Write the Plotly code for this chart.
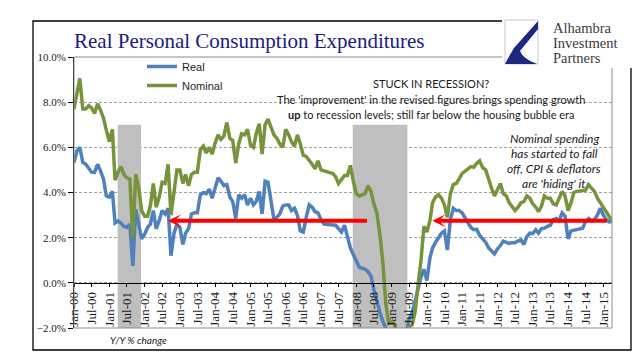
import plotly.graph_objects as go
import pandas as pd

# ---------------- data (Y/Y % change, monthly from Jan-2000) ----------------
start_month = "2000-01-01"

real = [
    5.33, 5.85, 6.00, 5.33, 5.26, 5.05, 4.90, 4.89, 5.25, 4.96, 4.60, 3.85,   # 2000
    3.80, 4.05, 2.65, 2.74, 2.65, 2.50, 2.45, 2.60, 0.75, 3.25, 2.60, 1.95,   # 2001
    2.15, 2.45, 2.60, 3.20, 2.40, 2.75, 3.20, 3.05, 3.30, 1.20, 2.20, 2.60,   # 2002
    2.45, 1.70, 2.20, 2.40, 3.05, 3.10, 3.10, 3.90, 4.00, 3.95, 4.15, 3.75,   # 2003
    4.20, 4.65, 4.50, 4.30, 4.35, 3.80, 3.60, 2.85, 3.90, 3.75, 3.90, 3.45,   # 2004
    3.75, 3.45, 3.60, 4.05, 3.05, 4.50, 4.45, 3.60, 2.80, 2.90, 3.05, 3.40,   # 2005
    3.45, 3.45, 3.20, 3.30, 3.00, 2.30, 2.25, 2.90, 3.45, 3.35, 3.15, 3.10,   # 2006
    2.80, 2.60, 2.58, 2.58, 2.55, 2.55, 2.40, 2.25, 2.55, 2.00, 1.55, 1.25,   # 2007
    0.95, 0.70, 0.65, 0.60, 0.50, 0.30, -0.30, -0.85, -1.30, -1.70, -2.05, -2.40,  # 2008
    -2.60, -2.70, -2.70, -2.60, -2.40, -2.20, -1.60, -1.30, -0.80, -0.20, 0.25, 0.60,  # 2009
    0.10, 1.10, 1.55, 1.80, 2.00, 2.20, 2.30, 1.45, 2.80, 3.30, 3.20, 3.20,   # 2010
    3.10, 2.90, 2.70, 2.45, 2.35, 2.37, 2.10, 1.95, 1.80, 1.55, 1.42, 1.28,   # 2011
    1.50, 1.65, 1.85, 1.80, 1.75, 1.78, 1.78, 1.85, 1.90, 1.70, 2.05, 2.20,   # 2012
    2.18, 2.35, 2.20, 2.40, 2.42, 2.50, 2.55, 2.80, 2.85, 2.75, 3.10, 2.95,   # 2013
    1.95, 2.30, 2.32, 2.37, 2.37, 2.42, 2.72, 2.85, 2.75, 2.80, 3.00, 3.30,   # 2014
    3.00, 2.80, 2.70, 2.72,                                                   # 2015
]

nominal = [
    7.70, 8.35, 9.05, 7.70, 7.70, 7.85, 7.75, 7.50, 7.93, 7.65, 7.30, 6.75,   # 2000
    6.25, 6.80, 4.55, 4.90, 5.15, 4.80, 4.65, 4.60, 2.00, 4.80, 4.20, 3.20,   # 2001
    2.95, 2.95, 3.40, 4.40, 3.35, 3.80, 4.45, 4.40, 5.25, 3.00, 4.10, 5.00,   # 2002
    5.00, 4.40, 4.80, 4.30, 4.80, 4.90, 4.90, 5.90, 6.05, 5.75, 6.00, 5.70,   # 2003
    6.20, 6.55, 6.35, 6.50, 7.10, 6.40, 6.30, 5.30, 6.15, 6.60, 6.55, 6.80,   # 2004
    6.10, 6.00, 6.60, 7.05, 5.70, 7.00, 7.25, 6.90, 6.55, 6.40, 6.15, 6.00,   # 2005
    6.80, 6.55, 6.25, 6.05, 6.55, 6.15, 5.65, 5.60, 5.45, 5.25, 5.05, 5.40,   # 2006
    5.00, 4.95, 4.92, 4.88, 4.85, 4.70, 4.40, 4.60, 4.75, 4.75, 5.20, 4.50,   # 2007
    3.95, 3.85, 3.90, 3.95, 4.30, 4.05, 3.50, 3.10, 2.15, 0.95, -0.90, -1.80,  # 2008
    -1.75, -1.85, -2.40, -2.70, -2.60, -2.30, -1.95, -1.85, -1.30, -0.10, 1.00, 2.50,  # 2009
    2.25, 2.75, 3.55, 3.80, 3.90, 3.75, 3.45, 2.90, 3.95, 4.35, 4.40, 4.60,   # 2010
    4.85, 4.95, 5.05, 5.15, 5.12, 5.30, 5.40, 5.10, 5.00, 4.55, 4.20, 3.85,   # 2011
    4.10, 4.40, 3.95, 3.85, 3.55, 3.35, 3.20, 3.35, 3.55, 3.60, 3.85, 3.75,   # 2012
    3.50, 3.35, 3.15, 3.40, 3.85, 3.75, 3.75, 3.50, 3.45, 3.75, 4.05, 3.85,   # 2013
    3.20, 3.55, 4.00, 4.05, 4.07, 4.07, 4.10, 4.35, 4.20, 4.05, 3.75, 3.55,   # 2014
    3.35, 3.10, 2.90, 2.75,                                                   # 2015
]

recession_start = ["2001-03-28", "2007-11-25"]
recession_end = ["2001-11-25", "2009-06-13"]
recession_top = 7.0
axis_bottom = -2.0

arrow_heads = ["2002-09-01", "2010-02-27"]
arrow_tails = ["2008-05-07", "2015-02-21"]
arrow_level = 2.75

y_range = [-2, 10]

months = pd.date_range(start_month, periods=len(real), freq="MS")

# ---------------- layout helpers (pixel -> paper) ----------------
W, H = 641, 358
L, R, T, B = 66, 604, 49, 320


def px(x):
    return (x - L) / (R - L)


def py(y):
    return (B - y) / (B - T)


SERIF = "Liberation Serif, Times New Roman, serif"
SANS = "Lato, Liberation Sans, sans-serif"

fig = go.Figure()
fig.add_trace(go.Scatter(x=months, y=real, mode="lines", name="Real",
                         line=dict(color="#4F81BD", width=3.5)))
fig.add_trace(go.Scatter(x=months, y=nominal, mode="lines", name="Nominal",
                         line=dict(color="#77933C", width=3.5)))

shapes = []
for s, e in zip(recession_start, recession_end):
    shapes.append(dict(type="rect", xref="x", yref="y", x0=s, x1=e,
                       y0=axis_bottom, y1=recession_top,
                       fillcolor="#BFBFBF", line=dict(width=0), layer="between"))
# plot area border
shapes.append(dict(type="rect", xref="paper", yref="paper", x0=0, x1=1, y0=0, y1=1,
                   line=dict(color="#8C8C8C", width=1), layer="above"))
# outer frame
shapes.append(dict(type="rect", xref="paper", yref="paper",
                   x0=px(25), x1=px(623), y0=py(342), y1=py(13),
                   line=dict(color="black", width=1.3), layer="above"))
# logo white box
shapes.append(dict(type="rect", xref="paper", yref="paper",
                   x0=px(494), x1=px(641), y0=py(60), y1=py(0),
                   fillcolor="white", line=dict(width=0), layer="above"))
# logo emblem box
shapes.append(dict(type="rect", xref="paper", yref="paper",
                   x0=px(497), x1=px(530), y0=py(56), y1=py(12),
                   fillcolor="white", line=dict(color="#C8C8C8", width=1), layer="above"))


def path(points):
    segs = []
    for cmd, pts in points:
        coords = " ".join(f"{px(a):.4f},{py(b):.4f}" for a, b in pts)
        segs.append(f"{cmd} {coords}")
    return " ".join(segs) + " Z"


emblem = path([
    ("M", [(530, 13)]),
    ("L", [(506, 40)]),
    ("Q", [(500, 50), (497, 56)]),
    ("L", [(529, 56)]),
    ("Q", [(515, 51), (512, 43)]),
    ("L", [(530, 21)]),
])
shapes.append(dict(type="path", xref="paper", yref="paper", path=emblem,
                   fillcolor="#1B2A80", line=dict(width=0), layer="above"))

annotations = []
# title
annotations.append(dict(text="Real Personal Consumption Expenditures", xref="paper", yref="paper",
                        x=px(64), y=py(33), xanchor="left", yanchor="middle", showarrow=False,
                        font=dict(family=SERIF, size=21, color="#1B1B80")))
# logo text
for txt, yy in zip(["Alhambra", "Investment", "Partners"], [20, 35, 50]):
    annotations.append(dict(text=txt, xref="paper", yref="paper", x=px(543), y=py(yy),
                            xanchor="left", yanchor="middle", showarrow=False,
                            font=dict(family=SERIF, size=14.5, color="#3A3A3A")))
# main note
note_lines = ["STUCK IN RECESSION?",
              "The 'improvement' in the revised figures brings spending growth",
              "<b>up</b> to recession levels; still far below the housing bubble era"]
for txt, yy in zip(note_lines, [75, 91, 106]):
    annotations.append(dict(text=txt, xref="paper", yref="paper", x=px(423), y=py(yy),
                            xanchor="center", yanchor="middle", showarrow=False,
                            font=dict(family=SANS, size=11, color="#1A1A1A")))
# italic note
side_lines = ["Nominal spending", "has started to fall", "off, CPI &amp; deflators", "are 'hiding' it"]
for txt, yy in zip(side_lines, [130, 145, 160, 175]):
    annotations.append(dict(text=f"<i>{txt}</i>", xref="paper", yref="paper", x=px(546), y=py(yy),
                            xanchor="center", yanchor="middle", showarrow=False,
                            font=dict(family=SANS, size=12, color="#1A1A1A")))
# footer
annotations.append(dict(text="<i>Y/Y % change</i>", xref="paper", yref="paper", x=px(100), y=py(332),
                        xanchor="left", yanchor="middle", showarrow=False,
                        font=dict(family=SANS, size=10, color="#1A1A1A")))
# red arrows
for head, tail in zip(arrow_heads, arrow_tails):
    annotations.append(dict(text="", x=head, y=arrow_level, ax=tail, ay=arrow_level,
                            xref="x", yref="y", axref="x", ayref="y", showarrow=True,
                            arrowhead=3, arrowsize=0.55, arrowwidth=4, arrowcolor="#FF0000",
                            standoff=0, startstandoff=0))

fig.update_layout(
    width=W, height=H,
    margin=dict(l=L, r=W - R, t=T, b=H - B, pad=0),
    paper_bgcolor="white", plot_bgcolor="white",
    showlegend=True,
    legend=dict(x=px(134), y=py(44), xanchor="left", yanchor="top",
                bgcolor="rgba(0,0,0,0)", font=dict(family="Liberation Sans, Arial", size=11, color="#262626"),
                tracegroupgap=0),
    shapes=shapes, annotations=annotations,
    xaxis=dict(type="date", range=[months[0], months[-1]], anchor="free",
               position=(0 - y_range[0]) / (y_range[1] - y_range[0]),
               showline=True, linecolor="black", linewidth=1,
               ticks="outside", ticklen=3, tickcolor="black",
               tick0=start_month, dtick="M6", tickformat="%b-%y", tickangle=-90,
               tickfont=dict(family=SERIF, size=13, color="#1A1A1A"),
               showgrid=False, zeroline=False, layer="above traces"),
    yaxis=dict(range=y_range, dtick=2, tickformat=".1f", ticksuffix="%",
               showline=True, linecolor="black", linewidth=1,
               ticks="outside", ticklen=5, tickcolor="black",
               tickfont=dict(family=SERIF, size=11, color="#1A1A1A"),
               showgrid=True, gridcolor="#A0A0A0", gridwidth=1, griddash="3px,2px",
               zeroline=False, layer="above traces"),
)

fig.write_html("out.html")
